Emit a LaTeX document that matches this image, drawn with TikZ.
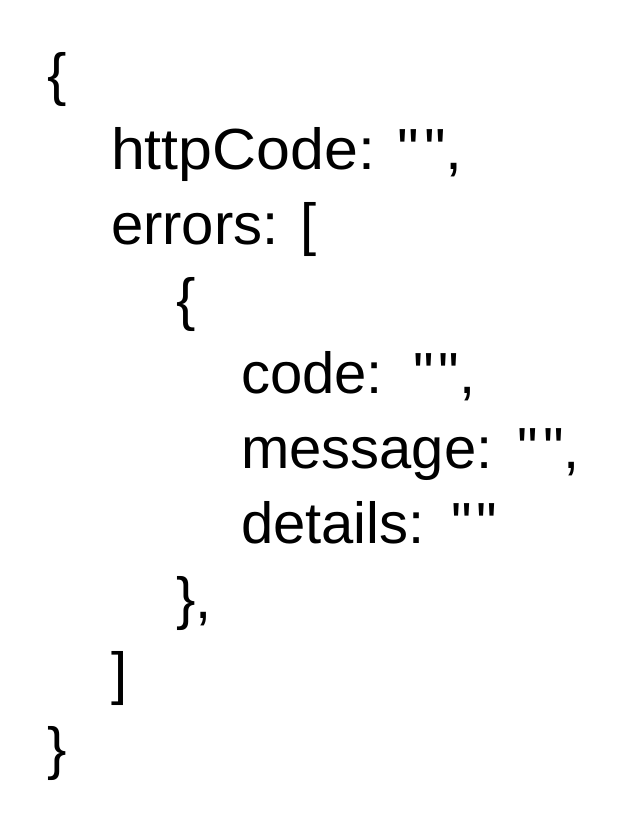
\documentclass[tikz,border=0pt]{standalone}
\usepackage{fontspec}
\setmainfont{Liberation Sans}
\newcommand{\sq}{\XeTeXglyph\XeTeXcharglyph"22\relax}
\newcommand{\qq}[1][0pt]{\kern#1\sq\kern0.08em\sq}
\begin{document}
\begin{tikzpicture}[x=1pt,y=1pt,
  jsontext/.style={anchor=base west,inner sep=0pt,outer sep=0pt,font=\fontsize{58}{70}\selectfont}]
\useasboundingbox (0,0) rectangle (622,-831);
\node[jsontext] (l0) at (47,-94) {\{};
\node[jsontext,xscale=1.05] (l1) at (111,-169) {httpCode: \qq,};
\node[jsontext] (l2) at (111,-244) {errors: [};
\node[jsontext] (l3) at (176,-319) {\{};
\node[jsontext] (l4) at (241,-393) {code: \qq[9pt],};
\node[jsontext] (l5) at (241,-468) {message: \qq[4pt],};
\node[jsontext] (l6) at (241,-543) {details: \qq[5pt]};
\node[jsontext] (l7) at (176,-618) {\},};
\node[jsontext] (l8) at (111,-693) {]};
\node[jsontext] (l9) at (47,-768) {\}};
\end{tikzpicture}
\end{document}
